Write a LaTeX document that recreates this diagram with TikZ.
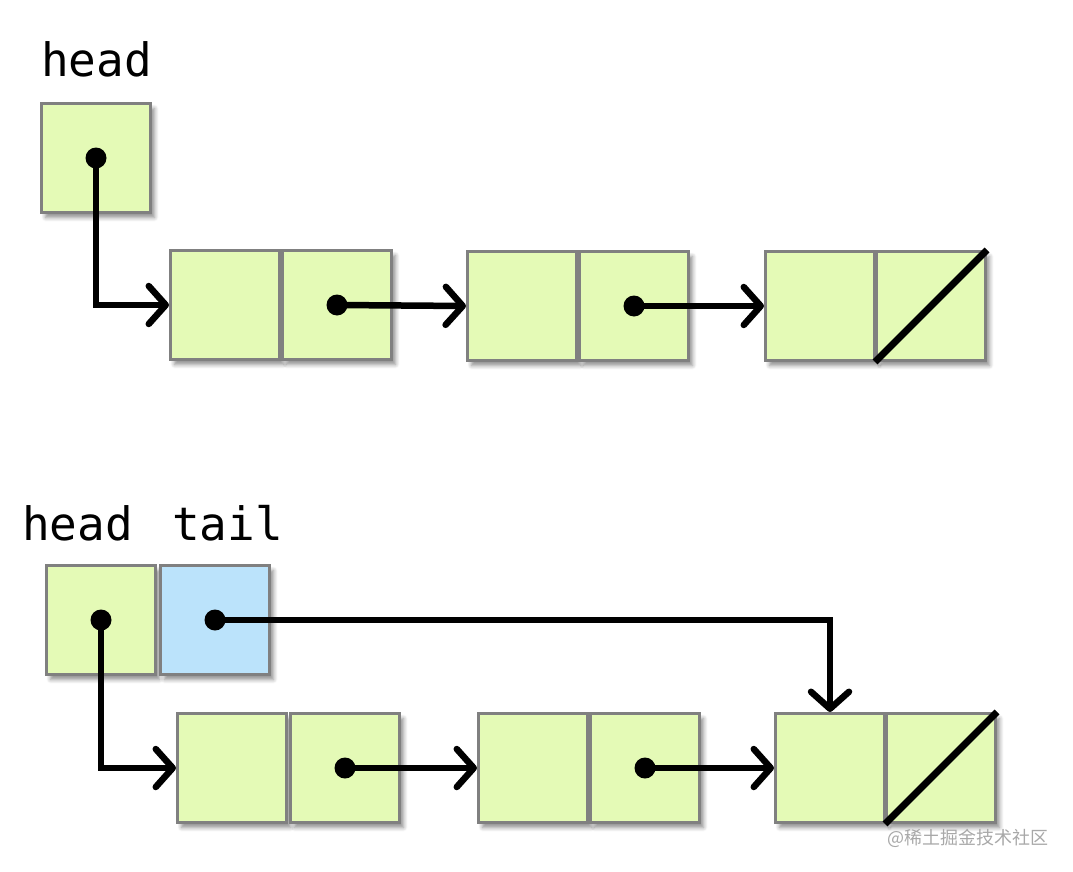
\documentclass[tikz,border=0pt]{standalone}
\usepackage{fontspec}
\newfontfamily\monofont{DejaVu Sans Mono}
\newfontfamily\cjkfont{Noto Sans CJK SC}
\usetikzlibrary{arrows.meta,shadows.blur}
\definecolor{cellgreen}{HTML}{E4FAB6}
\definecolor{cellblue}{HTML}{BBE3FB}
\definecolor{bordergray}{HTML}{808080}
\definecolor{markgray}{HTML}{A8A8A8}
\tikzset{
  cell/.style={rectangle, draw=bordergray, line width=3pt, fill=cellgreen,
    minimum width=109pt, minimum height=109pt, inner sep=0pt,
    blur shadow={shadow xshift=4pt, shadow yshift=-5pt, shadow blur radius=4pt, shadow blur steps=6, shadow opacity=45}},
  tailcell/.style={cell, fill=cellblue},
  ptr/.style={line width=6.5pt, -{Straight Barb[length=17pt, width=38pt, line width=6.5pt, round]}},
  nullbar/.style={line width=7pt},
  varlabel/.style={font=\monofont\fontsize{46}{46}\selectfont, anchor=base west, inner sep=0pt},
  watermark/.style={font=\cjkfont\fontsize{18}{18}\selectfont, text=markgray, anchor=east, inner sep=0pt}
}
\begin{document}
\begin{tikzpicture}[x=1pt, y=-1pt]
\useasboundingbox (0,0) rectangle (1073,872);
% ---------- top list ----------
\node[varlabel] (lh1) at (41,77) {head};
\node[cell] (h1) at (96,158) {};
\node[cell] (a1) at (225,305) {};
\node[cell] (a2) at (337,305) {};
\node[cell] (b1) at (522,306) {};
\node[cell] (b2) at (634,306) {};
\node[cell] (c1) at (820,306) {};
\node[cell] (c2) at (931,306) {};
\draw[nullbar] (c2.south west) -- (c2.north east);
\draw[ptr] (h1.center) |- (a1.west);
\draw[ptr] (a2.center) -- (b1.west);
\draw[ptr] (b2.center) -- (c1.west);
\foreach \n in {h1,a2,b2} \fill (\n.center) circle (10.5);
% ---------- bottom list ----------
\node[varlabel] (lh2) at (22,540) {head};
\node[varlabel] (lt2) at (172,540) {tail};
\node[cell] (h2) at (101,620) {};
\node[tailcell] (t2) at (215,620) {};
\node[cell] (e1) at (232,768) {};
\node[cell] (e2) at (345,768) {};
\node[cell] (f1) at (533,768) {};
\node[cell] (f2) at (645,768) {};
\node[cell] (g1) at (830,768) {};
\node[cell] (g2) at (941,768) {};
\draw[nullbar] (g2.south west) -- (g2.north east);
\draw[ptr] (h2.center) |- (e1.west);
\draw[ptr] (t2.center) -| (g1.north);
\draw[ptr] (e2.center) -- (f1.west);
\draw[ptr] (f2.center) -- (g1.west);
\foreach \n in {h2,t2,e2,f2} \fill (\n.center) circle (10.5);
% watermark
\node[watermark] (wm) at (1049,838) {@稀土掘金技术社区};
\end{tikzpicture}
\end{document}
